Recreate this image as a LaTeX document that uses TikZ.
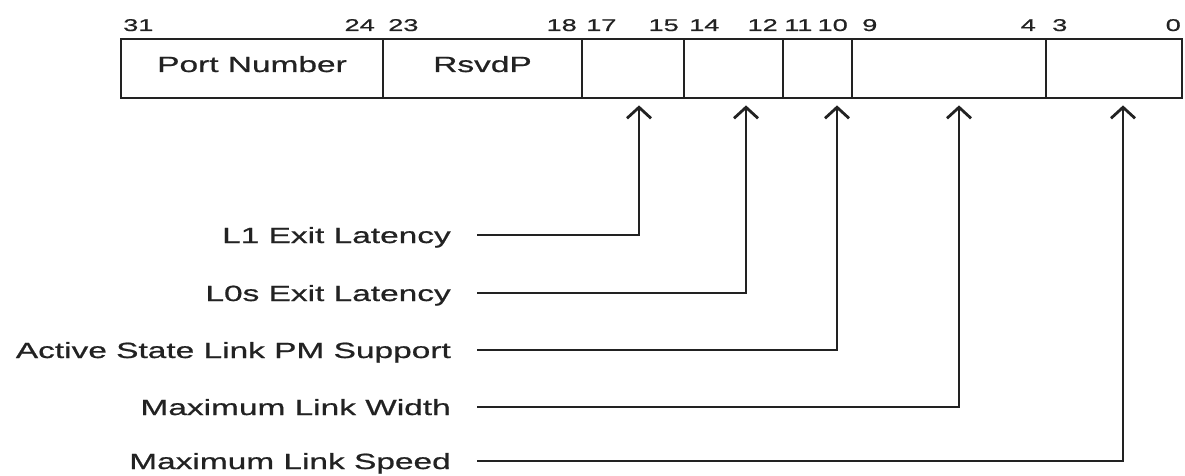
\documentclass[tikz,border=0pt]{standalone}
\usepackage{fontspec}
\setmainfont{Liberation Sans}
\newfontfamily\labfont[FakeStretch=1.52,FakeBold=0.8]{Liberation Sans}
\newfontfamily\numfont[FakeStretch=1.6,FakeBold=0.8]{Liberation Sans}
\usetikzlibrary{arrows.meta}
\definecolor{inkc}{HTML}{222222}
\begin{document}
\begin{tikzpicture}[x=1pt,y=-1pt,
  ink/.style={line width=2.8pt, draw=inkc},
  field/.style={ink, rectangle, minimum height=59pt, inner sep=0pt, text=inkc,
    font=\labfont\fontsize{22}{26}\selectfont, text height=16pt, text depth=9pt},
  bitl/.style={anchor=base west, inner sep=0pt, text=inkc, font=\numfont\fontsize{17}{20}\selectfont},
  bitr/.style={anchor=base east, inner sep=0pt, text=inkc, font=\numfont\fontsize{17}{20}\selectfont},
  lab/.style={anchor=base east, inner sep=0pt, text=inkc, font=\labfont\fontsize{22}{26}\selectfont},
  conn/.style={ink, -{Straight Barb[length=11pt,width=24pt]}}
]
\useasboundingbox (0,0) rectangle (1185,476);

% register fields
\node[field, minimum width=262pt] (f1) at (252,68.5) {Port Number};
\node[field, minimum width=199pt] (f2) at (482.5,68.5) {RsvdP};
\node[field, minimum width=102pt] (f3) at (633,68.5) {};
\node[field, minimum width=99pt]  (f4) at (733.5,68.5) {};
\node[field, minimum width=69pt]  (f5) at (817.5,68.5) {};
\node[field, minimum width=194pt] (f6) at (949,68.5) {};
\node[field, minimum width=136pt] (f7) at (1114,68.5) {};

% bit numbers
\node[bitl] (b31) at (123,31) {31};
\node[bitr] (b24) at (375,31) {24};
\node[bitl] (b23) at (388,31) {23};
\node[bitr] (b18) at (577,31) {18};
\node[bitl] (b17) at (586,31) {17};
\node[bitr] (b15) at (679,31) {15};
\node[bitl] (b14) at (689,31) {14};
\node[bitr] (b12) at (778,31) {12};
\node[bitl] (b11) at (784,31) {11};
\node[bitr] (b10) at (848,31) {10};
\node[bitl] (b9)  at (862,31) {9};
\node[bitr] (b4)  at (1036,31) {4};
\node[bitl] (b3)  at (1052,31) {3};
\node[bitr] (b0)  at (1181,31) {0};

% labels
\node[lab] (l1) at (451,243) {L1 Exit Latency};
\node[lab] (l2) at (451,301) {L0s Exit Latency};
\node[lab] (l3) at (451,358) {Active State Link PM Support};
\node[lab] (l4) at (451,415) {Maximum Link Width};
\node[lab] (l5) at (451,469) {Maximum Link Speed};

% connector ends
\foreach \i in {1,...,5} {
  \coordinate (s\i) at ([xshift=26pt,yshift=8pt]l\i.base east);
}
\coordinate (t1) at ([xshift=6pt,yshift=-6pt]f3.south);
\coordinate (t2) at ([xshift=12.5pt,yshift=-6pt]f4.south);
\coordinate (t3) at ([xshift=19.5pt,yshift=-6pt]f5.south);
\coordinate (t4) at ([xshift=10pt,yshift=-6pt]f6.south);
\coordinate (t5) at ([xshift=9pt,yshift=-6pt]f7.south);

\foreach \i in {1,...,5} {
  \draw[conn] (s\i) -| (t\i);
}
\end{tikzpicture}
\end{document}
